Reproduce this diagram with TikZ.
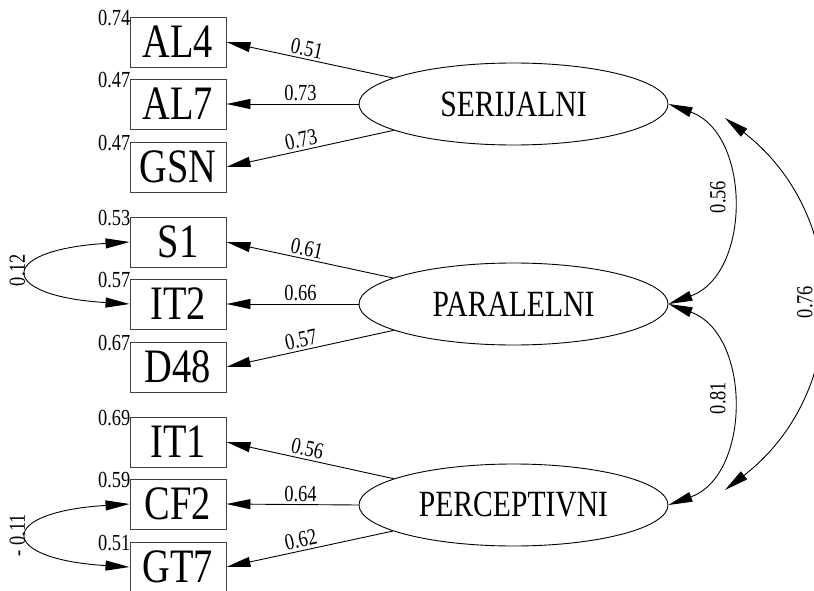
\documentclass[tikz,border=0pt]{standalone}
\usepackage{fontspec}
\setmainfont{Liberation Serif}
\newfontfamily\tnr[FakeStretch=0.8]{Liberation Serif}
\usetikzlibrary{arrows.meta,shapes.geometric}
\begin{document}
\begin{tikzpicture}[x=1pt,y=-1pt,
  obs/.style={draw=black!75, line width=0.9pt, rectangle, minimum width=96pt, minimum height=50pt, inner sep=0pt, font=\tnr\fontsize{48}{48}\selectfont},
  lat/.style={draw, line width=0.9pt, ellipse, minimum width=309pt, minimum height=82pt, inner sep=0pt, font=\tnr\fontsize{37}{37}\selectfont},
  num/.style={font=\tnr\fontsize{23}{23}\selectfont, inner sep=0pt},
  ld/.style={num, sloped, above=2.5pt},
  rarr/.style={line width=0.9pt, {Triangle[length=24pt,width=10pt]}-},
  dbl/.style={line width=0.9pt, {Triangle[length=24pt,width=10pt]}-{Triangle[length=24pt,width=10pt]}},
]
\useasboundingbox (0,0) rectangle (814,591);
\clip (0,0) rectangle (814,591);

% observed variables
\node[obs] (al4) at (178,42) {AL4};
\node[obs] (al7) at (178,104) {AL7};
\node[obs] (gsn) at (178,167) {GSN};
\node[obs] (s1)  at (178,242) {S1};
\node[obs] (it2) at (178,304) {IT2};
\node[obs] (d48) at (178,367) {D48};
\node[obs] (it1) at (178,442) {IT1};
\node[obs] (cf2) at (178,504) {CF2};
\node[obs] (gt7) at (178,567) {GT7};

% latent variables
\node[lat] (ser) at (513.5,104) {SERIJALNI};
\node[lat] (par) at (513.5,304) {PARALELNI};
\node[lat] (per) at (513.5,505) {PERCEPTIVNI};

% residual labels
\foreach \b/\v in {al4/0.74, al7/0.47, gsn/0.47, s1/0.53, it2/0.57, d48/0.67, it1/0.69, cf2/0.59, gt7/0.51}
  \node[num, anchor=base east] (r\b) at ([shift={(1,8.5)}]\b.north west) {\v};

% loadings
\draw[rarr] (al4.east) -- node[ld, pos=0.47] {0.51} (ser);
\draw[rarr] (al7.east) -- node[ld, pos=0.56] {0.73} (ser.west);
\draw[rarr] (gsn.east) -- node[ld, pos=0.46] {0.73} (ser);
\draw[rarr] (s1.east)  -- node[ld, pos=0.47] {0.61} (par);
\draw[rarr] (it2.east) -- node[ld, pos=0.56] {0.66} (par.west);
\draw[rarr] (d48.east) -- node[ld, pos=0.46] {0.57} (par);
\draw[rarr] (it1.east) -- node[ld, pos=0.47] {0.56} (per);
\draw[rarr] (cf2.east) -- node[ld, pos=0.56] {0.64} (per.west);
\draw[rarr] (gt7.east) -- node[ld, pos=0.46] {0.62} (per);

% error correlations (left)
\draw[dbl] (s1.west) .. controls +(-133,8) and +(-133,-8) .. (it2.west);
\node[num, rotate=90] (c012) at (17.5,270) {0.12};
\draw[dbl] (cf2.west) .. controls +(-133,8) and +(-133,-8) .. (gt7.west);
\node[num, rotate=90] (c011) at (17.5,535) {- 0.11};

% factor correlations (right)
\draw[dbl] (ser.east) .. controls +(83,30) and +(83,-30) .. (par.east);
\node[num, rotate=90] (c056) at (718,197) {0.56};
\draw[dbl] (par.east) .. controls +(83,30) and +(83,-30) .. (per.east);
\node[num, rotate=90] (c081) at (718,398) {0.81};
\coordinate (t76) at (725,118);
\coordinate (b76) at (725,490);
\draw[dbl] (t76) .. controls +(127,98) and +(127,-98) .. (b76);
\node[num, rotate=90] (c076) at (805,302) {0.76};
\end{tikzpicture}
\end{document}
